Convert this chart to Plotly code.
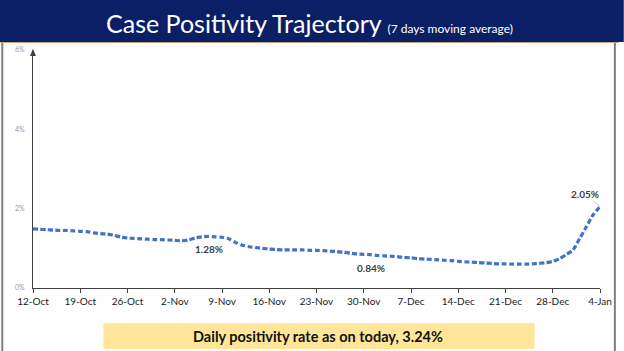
import pandas as pd
import plotly.graph_objects as go

# ---- data ----
dates = pd.date_range("2020-10-12", "2021-01-04", freq="D")
positivity = [
    1.49, 1.48, 1.47, 1.46, 1.45, 1.45, 1.44, 1.43, 1.42, 1.39,
    1.37, 1.36, 1.33, 1.28, 1.26, 1.25, 1.24, 1.23, 1.22, 1.22,
    1.21, 1.20, 1.19, 1.21, 1.26, 1.29, 1.30, 1.29, 1.28, 1.24,
    1.15, 1.08, 1.04, 1.02, 1.00, 0.98, 0.97, 0.96, 0.96, 0.96,
    0.96, 0.95, 0.95, 0.94, 0.93, 0.92, 0.90, 0.88, 0.86, 0.85,
    0.84, 0.82, 0.81, 0.80, 0.79, 0.77, 0.76, 0.74, 0.73, 0.72,
    0.71, 0.70, 0.69, 0.67, 0.66, 0.65, 0.64, 0.63, 0.62, 0.61,
    0.61, 0.60, 0.60, 0.60, 0.61, 0.62, 0.64, 0.67, 0.74, 0.84,
    0.96, 1.25, 1.55, 1.85, 2.05,
]
tick_dates = pd.date_range("2020-10-12", "2021-01-04", freq="7D")
tick_labels = ["12-Oct", "19-Oct", "26-Oct", "2-Nov", "9-Nov", "16-Nov", "23-Nov",
               "30-Nov", "7-Dec", "14-Dec", "21-Dec", "28-Dec", "4-Jan"]
y_ticks = [0, 2, 4, 6]
y_tick_labels = ["0%", "2%", "4%", "6%"]
labelled = [("2020-11-07", "1.28%"), ("2020-12-01", "0.84%")]
last_label = "2.05%"

title = "Case Positivity Trajectory"
subtitle = "(7 days moving average)"
footer = "Daily positivity rate as on today, 3.24%"

# ---- geometry (pixels) ----
W, H = 624, 351
L, R, T, B = 33, 605, 50, 288


def xp(px):
    return (px - L) / (R - L)


def yp(py):
    return (B - py) / (B - T)


FONT = "Lato"

fig = go.Figure()
fig.add_trace(go.Scatter(
    x=dates, y=positivity, mode="lines",
    line=dict(color="#4472C4", width=3.2, dash="5px,2.5px", shape="spline", smoothing=0.6),
    hoverinfo="skip", showlegend=False,
))

arrow_path = (f"M {xp(L)} {yp(T - 1)} L {xp(L - 3)} {yp(T + 6)} "
              f"L {xp(L + 3)} {yp(T + 6)} Z")

shapes = [
    # title bar
    dict(type="rect", xref="paper", yref="paper", x0=xp(-5), x1=xp(W + 5), y0=yp(42), y1=yp(-5),
         fillcolor="#0b1f66", line=dict(width=0), layer="below"),
    dict(type="line", xref="paper", yref="paper", x0=xp(0), x1=xp(W), y0=yp(42.5), y1=yp(42.5),
         line=dict(color="#c9a27e", width=1)),
    # side frame
    dict(type="line", xref="paper", yref="paper", x0=xp(2), x1=xp(2), y0=yp(43), y1=yp(H),
         line=dict(color="#7f7f7f", width=2)),
    dict(type="line", xref="paper", yref="paper", x0=xp(620), x1=xp(620), y0=yp(43), y1=yp(H),
         line=dict(color="#7f7f7f", width=2)),
    # footer box
    dict(type="rect", xref="paper", yref="paper", x0=xp(104), x1=xp(539), y0=yp(349), y1=yp(323),
         fillcolor="#FFE699", line=dict(width=0), layer="below"),
    # arrowhead on y axis
    dict(type="path", xref="paper", yref="paper", path=arrow_path,
         fillcolor="#404040", line=dict(width=0)),
]

annotations = [
    dict(xref="paper", yref="paper", x=xp(312), y=yp(23), xanchor="center", yanchor="middle",
         showarrow=False,
         text=f"{title} <span style='font-size:12px'>{subtitle}</span>",
         font=dict(family=FONT, size=25, color="white")),
    dict(xref="paper", yref="paper", x=xp(321), y=yp(336), xanchor="center", yanchor="middle",
         showarrow=False, text=f"<b>{footer}</b>",
         font=dict(family=FONT, size=14.5, color="#111111")),
]

for d, txt in labelled:
    idx = list(dates).index(pd.Timestamp(d))
    annotations.append(dict(x=dates[idx], y=positivity[idx], xref="x", yref="y",
                            showarrow=False, text=f"<b>{txt}</b>", yshift=-13,
                            font=dict(family=FONT, size=10, color="#404040")))

annotations.append(dict(x=dates[-1], y=positivity[-1], xref="x", yref="y",
                        showarrow=True, ax=-15, ay=-13, arrowhead=0, arrowwidth=1,
                        arrowcolor="#c8c8c8", text=f"<b>{last_label}</b>",
                        font=dict(family=FONT, size=10, color="#404040")))

fig.update_layout(
    width=W, height=H,
    margin=dict(l=L, r=W - R, t=T, b=H - B, pad=0),
    paper_bgcolor="white", plot_bgcolor="white",
    shapes=shapes, annotations=annotations,
    font=dict(family=FONT),
    xaxis=dict(
        type="date", range=[dates[0], dates[-1]],
        tickvals=list(tick_dates), ticktext=tick_labels,
        showgrid=False, zeroline=False,
        showline=True, linecolor="#404040", linewidth=1,
        ticks="outside", ticklen=4, tickcolor="#404040", tickwidth=1,
        tickfont=dict(family=FONT, size=10, color="#1a1a1a"),
    ),
    yaxis=dict(
        range=[0, 6], tickvals=y_ticks, ticktext=y_tick_labels,
        showgrid=False, zeroline=False,
        showline=True, linecolor="#404040", linewidth=1,
        ticks="", ticklabelstandoff=6,
        tickfont=dict(family=FONT, size=7, color="#999999"),
    ),
)

fig.write_html("out.html")
